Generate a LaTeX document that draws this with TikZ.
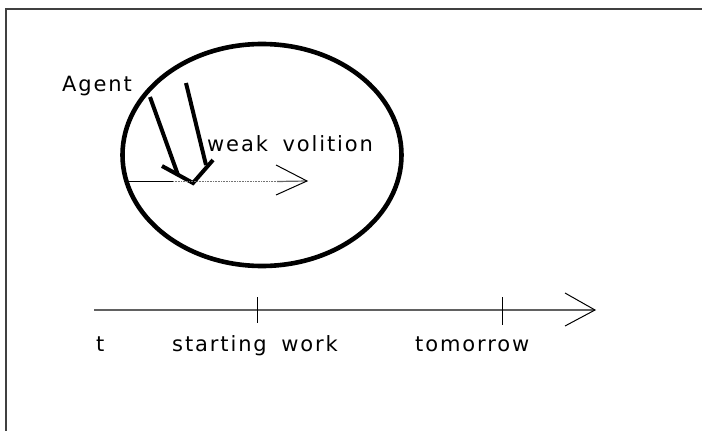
\documentclass[tikz,border=0pt]{standalone}
\usepackage{fontspec}
\setmainfont{DejaVu Sans}[LetterSpace=9, WordSpace=1.7]
\begin{document}
\begin{tikzpicture}[x=1pt,y=-1pt,
  lbl/.style={anchor=base west, inner sep=0pt, font=\fontsize{21}{24}\selectfont},
  frameline/.style={draw=black!75, line width=1.5pt},
  boldline/.style={line width=4pt},
  thinline/.style={line width=1pt},
  axisline/.style={draw=black!62, line width=1.6pt},
  dotline/.style={draw=black!55, line width=1.2pt, dash pattern=on 1pt off 0.6pt}]
\useasboundingbox (0,0) rectangle (702,431);
\fill[white] (0,0) rectangle (702,431);

% frame
\draw[frameline] (6,431) -- (6,9) -- (702,9);

% the agent's sphere
\draw[line width=4.6pt] (262,155) ellipse [x radius=139.5, y radius=111];

% agent arrow
\coordinate (a1) at (150,97);
\coordinate (a1e) at (178,175);
\coordinate (a2) at (186,83);
\coordinate (a2e) at (206,165);
\coordinate (vl) at (162,166);
\coordinate (vb) at (193,183);
\coordinate (vr) at (213,160);
\draw[boldline] (a1) -- (a1e);
\draw[boldline] (a2) -- (a2e);
\draw[boldline] (vl) -- (vb) -- (vr);

% weak volition arrow
\coordinate (h0) at (128,181.5);
\coordinate (h1) at (173,181.5);
\coordinate (h2) at (277,181.5);
\coordinate (htip) at (307,181);
\coordinate (hu) at (276,165);
\coordinate (hd) at (276,195);
\draw[thinline] (h0) -- (h1);
\draw[dotline] (h1) -- (h2);
\draw[draw=black!60, line width=1.2pt] (h2) -- (htip);
\draw[thinline] (hu) -- (htip) -- (hd);

\node[lbl] (agent) at (62,91) {Agent};
\node[lbl] (weak) at (207,151.5) {weak volition};

% time axis
\coordinate (t0) at (94,310);
\coordinate (t1) at (595,310);
\coordinate (tu) at (565,293);
\coordinate (td) at (565,326);
\draw[axisline] (t0) -- (t1);
\draw[thinline] (tu) -- (t1) -- (td);
\draw[thinline] (257,297) -- (257,323);
\draw[thinline] (502,297) -- (502,325);

\node[lbl] (t) at (96,351) {t};
\node[lbl] (start) at (172,351) {starting work};
\node[lbl] (tom) at (415,351) {tomorrow};
\end{tikzpicture}
\end{document}
